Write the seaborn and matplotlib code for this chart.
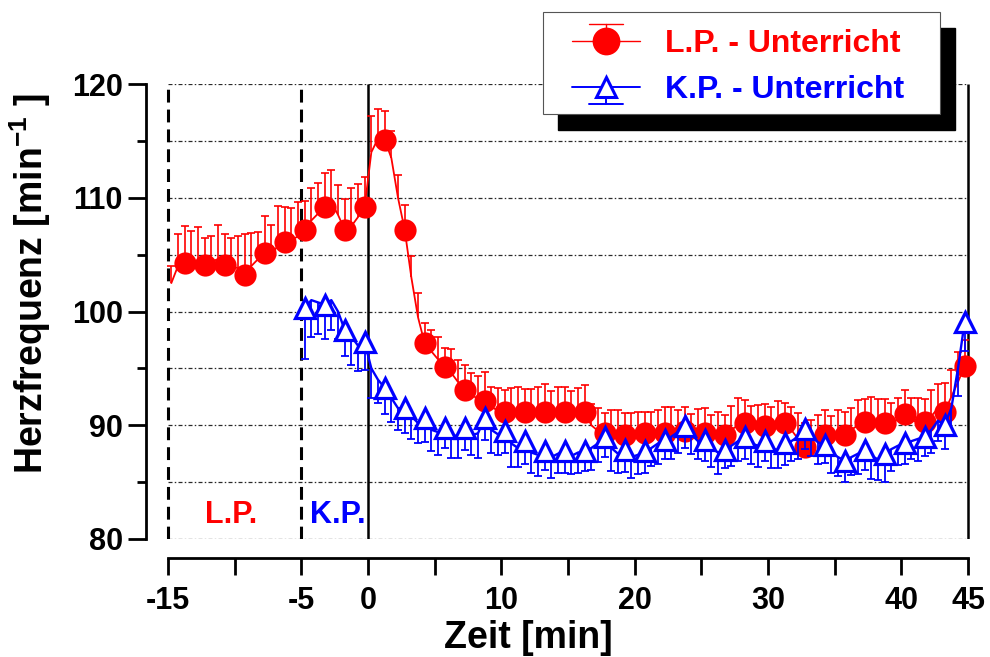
import matplotlib
matplotlib.use("Agg")
import numpy as np
import pandas as pd
import seaborn as sns
import matplotlib.pyplot as plt
from matplotlib.lines import Line2D
from matplotlib.legend_handler import HandlerBase
from matplotlib.patches import Rectangle

# ---------------- data ----------------
series_names = ["L.P. - Unterricht", "K.P. - Unterricht"]

lp_time = np.arange(-14.75, 45.0, 0.5)          # 120 samples
lp_hf = [102.5, 104.0, 104.3, 104.5, 104.0, 104.1, 104.4, 104.6, 104.1, 104.0,
         103.8, 103.2, 104.0, 104.6, 105.1, 105.0, 105.8, 106.1, 106.3, 106.6,
         107.2, 108.0, 108.6, 109.2, 109.6, 108.5, 107.2, 107.5, 108.3, 109.2,
         114.0, 115.2, 115.1, 113.5, 110.0, 107.2, 103.0, 99.5, 97.2, 96.5,
         95.8, 95.1, 94.6, 93.8, 93.1, 92.7, 92.3, 92.1, 91.6, 91.3,
         91.2, 91.0, 91.3, 91.2, 91.0, 91.4, 91.2, 91.1, 91.3, 91.2,
         91.0, 91.2, 91.2, 90.0, 89.5, 89.3, 89.2, 89.4, 89.1, 89.3,
         89.2, 89.3, 89.1, 89.5, 89.3, 89.6, 89.4, 89.5, 89.2, 89.4,
         89.3, 89.0, 89.2, 89.1, 89.6, 90.0, 90.2, 89.8, 89.6, 89.9,
         89.7, 90.0, 90.2, 89.6, 88.8, 88.1, 88.6, 88.9, 89.1, 89.0,
         89.3, 89.1, 89.6, 90.0, 90.3, 90.1, 90.4, 90.2, 90.0, 90.6,
         91.0, 90.5, 90.2, 90.3, 90.8, 91.5, 91.2, 92.5, 93.8, 95.2]
lp_err = [1.5, 2.8, 3.2, 2.6, 3.4, 2.4, 2.2, 3.0, 2.7, 2.5,
          2.8, 3.6, 2.9, 2.4, 3.3, 2.6, 3.5, 3.1, 2.8, 3.0,
          2.5, 2.9, 2.7, 3.0, 2.8, 2.6, 2.7, 3.4, 2.9, 2.6,
          3.2, 2.6, 2.5, 2.4, 2.0, 2.2, 1.9, 2.1, 1.8, 1.9,
          2.0, 1.7, 2.1, 1.9, 2.2, 1.9, 2.0, 2.6, 1.8, 2.0,
          1.9, 2.3, 2.1, 2.0, 2.2, 2.0, 2.4, 1.9, 2.1, 2.2,
          2.0, 2.1, 2.3, 1.9, 2.0, 1.8, 2.1, 1.9, 2.0, 1.8,
          2.0, 1.9, 2.1, 1.8, 2.3, 2.0, 1.9, 2.1, 1.8, 2.0,
          2.2, 1.9, 2.0, 1.8, 2.1, 2.4, 2.0, 1.9, 2.2, 2.0,
          1.9, 2.1, 1.8, 2.0, 2.3, 2.1, 1.9, 2.0, 2.2, 1.8,
          2.0, 2.1, 1.9, 2.2, 2.0, 2.4, 1.9, 2.1, 2.0, 1.8,
          2.1, 1.9, 2.2, 2.0, 2.3, 2.1, 2.5, 2.4, 2.6, 2.3]

kp_time = np.arange(-4.75, 45.0, 0.5)           # 100 samples
kp_hf = [100.3, 101.0, 100.8, 100.6, 101.0, 100.0, 98.4, 97.8, 97.0, 97.3,
         95.0, 94.0, 93.3, 92.4, 91.5, 91.5, 90.8, 90.2, 90.6, 89.6,
         89.4, 89.8, 89.2, 89.0, 89.8, 89.1, 89.3, 90.6, 89.6, 89.2,
         89.5, 88.4, 88.0, 88.6, 87.6, 87.4, 87.7, 87.2, 87.5, 87.7,
         87.3, 87.6, 87.7, 88.0, 88.4, 89.0, 88.0, 87.5, 87.8, 87.2,
         87.4, 87.7, 88.0, 88.4, 88.7, 89.0, 89.4, 89.9, 89.2, 88.6,
         88.7, 88.0, 87.6, 87.8, 88.2, 88.6, 89.0, 88.4, 88.2, 88.6,
         88.0, 87.8, 88.4, 88.6, 89.0, 89.7, 89.0, 88.5, 88.3, 87.6,
         87.2, 86.9, 87.2, 87.5, 87.8, 87.3, 87.0, 87.5, 87.9, 88.2,
         88.4, 88.6, 88.8, 89.0, 89.6, 90.4, 90.0, 91.5, 95.0, 99.1]
kp_err = [4.5, 3.2, 2.8, 3.0, 2.6, 2.4, 2.3, 2.5, 2.2, 2.4,
          2.6, 2.0, 2.3, 2.1, 1.9, 2.2, 2.0, 1.8, 2.1, 1.9,
          2.0, 1.8, 2.1, 1.9, 2.0, 1.7, 2.2, 1.9, 2.0, 1.8,
          1.9, 2.1, 1.7, 2.0, 1.8, 1.9, 1.6, 1.8, 1.7, 1.9,
          1.6, 1.8, 1.7, 1.9, 1.6, 1.8, 2.0, 1.7, 1.9, 1.8,
          1.7, 1.9, 1.6, 1.8, 1.7, 2.0, 1.8, 1.9, 1.7, 1.6,
          1.8, 1.7, 1.9, 1.6, 1.8, 1.7, 2.0, 1.8, 1.9, 1.7,
          1.8, 1.6, 1.9, 1.7, 2.0, 1.8, 1.7, 1.9, 1.6, 1.8,
          1.7, 1.9, 1.6, 1.8, 1.7, 2.0, 1.8, 2.5, 1.9, 1.7,
          1.8, 1.6, 1.9, 1.7, 2.0, 1.8, 2.1, 2.2, 2.4, 2.6]

x_ticks = [-15, -10, -5, 0, 5, 10, 15, 20, 25, 30, 35, 40, 45]
x_ticklabels = ["-15", "", "-5", "0", "", "10", "", "20", "", "30", "", "40", "45"]
y_major = [80, 90, 100, 110, 120]
y_minor = [85, 95, 105, 115]
grid_levels = [80, 85, 90, 95, 100, 105, 110, 115, 120]
phase_dashed = [-15, -5]
phase_solid = [0, 45]
phase_labels = [("L.P.", -10.24, "red"), ("K.P.", -2.29, "blue")]

# ---------------- style ----------------
sns.set_style("white")
plt.rcParams["font.family"] = ["Liberation Sans", "DejaVu Sans"]
plt.rcParams["font.weight"] = "bold"
plt.rcParams["text.color"] = "black"
plt.rcParams["axes.labelcolor"] = "black"
plt.rcParams["xtick.color"] = "black"
plt.rcParams["ytick.color"] = "black"
plt.rcParams["mathtext.fontset"] = "custom"
plt.rcParams["mathtext.rm"] = "Liberation Sans:bold"
plt.rcParams["mathtext.it"] = "Liberation Sans:bold"
plt.rcParams["mathtext.bf"] = "Liberation Sans:bold"

W, H = 990, 657
fig = plt.figure(figsize=(W / 100, H / 100), dpi=100)

XMIN, XMAX = -16.67, 46.0
px_per_min = 800 / 60.0
left_px = 168 - (-15 - XMIN) * px_per_min
right_px = 168 + (XMAX + 15) * px_per_min
ax = fig.add_axes([left_px / W, 1 - 539 / H, (right_px - left_px) / W, 455 / H])
ax.set_xlim(XMIN, XMAX)
ax.set_ylim(80, 120)

# grid (dash-dot) only between -15 and 45
ax.hlines(grid_levels, -15, 45, colors="#2a2a2a", linewidth=0.9,
          linestyles=[(0, (3.2, 1.8, 1.2, 1.8))], zorder=1)
ax.vlines(phase_dashed, 80, 120, colors="black", linewidth=2.2,
          linestyles=[(0, (4.2, 2.3))], zorder=2)
ax.vlines(phase_solid, 80, 120, colors="black", linewidth=1.8, zorder=2)

lp_df = pd.DataFrame({"t": lp_time, "hf": lp_hf, "err": lp_err})
kp_df = pd.DataFrame({"t": kp_time, "hf": kp_hf, "err": kp_err})

# L.P. error bars (upward)
ax.vlines(lp_df["t"], lp_df["hf"], lp_df["hf"] + lp_df["err"], colors="red",
          linewidth=1.2, zorder=3)
ax.plot(lp_df["t"], lp_df["hf"] + lp_df["err"], ls="none", marker="_", ms=6,
        mew=1.2, color="red", zorder=3)
sns.lineplot(data=lp_df, x="t", y="hf", ax=ax, color="red", linewidth=1.3,
             marker="o", markersize=16, markerfacecolor="red",
             markeredgecolor="red", markeredgewidth=0, markevery=(2, 3),
             estimator=None, errorbar=None, legend=False, zorder=4)

# K.P. error bars (downward)
ax.vlines(kp_df["t"], kp_df["hf"] - kp_df["err"], kp_df["hf"], colors="blue",
          linewidth=1.3, zorder=5)
ax.plot(kp_df["t"], kp_df["hf"] - kp_df["err"], ls="none", marker="_", ms=6,
        mew=1.3, color="blue", zorder=5)
sns.lineplot(data=kp_df, x="t", y="hf", ax=ax, color="blue", linewidth=1.7,
             marker="^", markersize=15, markerfacecolor="white",
             markeredgecolor="blue", markeredgewidth=2.3, markevery=(0, 3),
             estimator=None, errorbar=None, legend=False, zorder=6)

for txt, xpos, col in phase_labels:
    ax.text(xpos, 82.1, txt, color=col, fontsize=22, fontweight="bold",
            ha="center", va="center", zorder=7)

# axes / spines
for s in ["top", "right"]:
    ax.spines[s].set_visible(False)
ax.spines["left"].set_linewidth(2.0)
ax.spines["left"].set_color("black")
ax.spines["left"].set_bounds(80, 120)
ax.spines["bottom"].set_linewidth(2.0)
ax.spines["bottom"].set_color("black")
ax.spines["bottom"].set_position(("outward", 13.4))
ax.spines["bottom"].set_bounds(-15, 45)

ax.set_xticks(x_ticks)
ax.set_xticklabels(x_ticklabels)
ax.set_yticks(y_major)
ax.set_yticks(y_minor, minor=True)
ax.tick_params(axis="x", which="major", direction="out", length=12.3, width=2,
               pad=8, labelsize=22, bottom=True, color="black", labelcolor="black")
ax.tick_params(axis="y", which="major", direction="out", length=13, width=2,
               pad=3.4, labelsize=22, left=True, color="black", labelcolor="black")
ax.tick_params(axis="y", which="minor", direction="out", length=6.5, width=2,
               left=True, color="black")
ax.grid(False)

ax.set_xlabel("Zeit [min]", fontsize=27, fontweight="bold", color="black")
ax.set_ylabel("Herzfrequenz [min$^{-1}$ ]", fontsize=27, fontweight="bold",
              color="black")
ax.xaxis.set_label_coords((528 - left_px) / (right_px - left_px), (539 - 638) / 455)
ax.xaxis.label.set_va("center")
ax.yaxis.set_label_coords((30 - left_px) / (right_px - left_px), (539 - 283) / 455)
ax.yaxis.label.set_va("center")


# ---------------- legend ----------------
class ErrHandler(HandlerBase):
    def __init__(self, color, marker, ms, mfc, mew, lw, up):
        super().__init__()
        self.c, self.m, self.ms, self.mfc, self.mew, self.lw, self.up = \
            color, marker, ms, mfc, mew, lw, up

    def create_artists(self, legend, orig_handle, xdescent, ydescent,
                       width, height, fontsize, trans):
        x0 = -xdescent
        x1 = x0 + width
        cx = 0.5 * (x0 + x1)
        cy = 0.5 * height - ydescent
        sgn = 1 if self.up else -1
        elen = 12.2
        ln = Line2D([x0, x1], [cy, cy], color=self.c, lw=self.lw)
        er = Line2D([cx, cx], [cy, cy + sgn * elen], color=self.c, lw=self.lw)
        cp = Line2D([cx - width / 4, cx + width / 4], [cy + sgn * elen] * 2,
                    color=self.c, lw=self.lw)
        mk = Line2D([cx], [cy], ls="none", marker=self.m, ms=self.ms,
                    markerfacecolor=self.mfc, markeredgecolor=self.c,
                    markeredgewidth=self.mew)
        arts = [ln, er, cp, mk]
        for a in arts:
            a.set_transform(trans)
        return arts


h_lp = Line2D([], [], color="red")
h_kp = Line2D([], [], color="blue")
leg = fig.legend([h_lp, h_kp], series_names, loc="upper left",
                 bbox_to_anchor=(572 / W, 1 - 29 / H),
                 bbox_transform=fig.transFigure, frameon=False, borderpad=0,
                 borderaxespad=0, handlelength=2.13,
                 handletextpad=0.78, labelspacing=0.5,
                 prop={"weight": "bold", "size": 23},
                 handler_map={h_lp: ErrHandler("red", "o", 20, "red", 0, 1.0, True),
                              h_kp: ErrHandler("blue", "^", 15, "white", 2.2, 1.4, False)})
for t, c in zip(leg.get_texts(), ["red", "blue"]):
    t.set_color(c)
leg.set_zorder(10)

fig.add_artist(Rectangle((558 / W, 1 - 130 / H), 397 / W, 102 / H,
                         transform=fig.transFigure, facecolor="black",
                         edgecolor="black", zorder=3))
fig.add_artist(Rectangle((543 / W, 1 - 114 / H), 397 / W, 102 / H,
                         transform=fig.transFigure, facecolor="white",
                         edgecolor="#555555", linewidth=0.8, zorder=4))

fig.savefig("out.png", dpi=100)
